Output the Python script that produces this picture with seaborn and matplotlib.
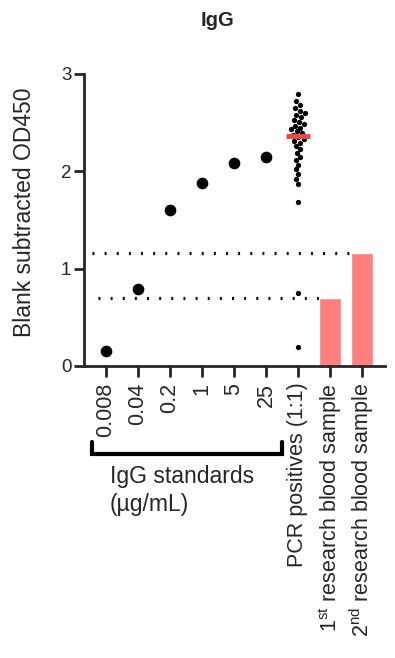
import numpy as np
import pandas as pd
import matplotlib
matplotlib.use("Agg")
import matplotlib.pyplot as plt
import matplotlib.transforms as mtransforms
import seaborn as sns

# ---------------- data ----------------
categories = ["0.008", "0.04", "0.2", "1", "5", "25", "PCR positives (1:1)",
              "1st", "2nd"]
tick_labels = ["0.008", "0.04", "0.2", "1", "5", "25", "PCR positives (1:1)",
               r"1$^{\mathrm{st}}$ research blood sample",
               r"2$^{\mathrm{nd}}$ research blood sample"]
standard_cats = ["0.008", "0.04", "0.2", "1", "5", "25"]
standard_values = [0.15, 0.79, 1.60, 1.88, 2.09, 2.15]
pcr_values = [2.79, 2.72, 2.68, 2.65, 2.62, 2.60, 2.58, 2.56, 2.53, 2.51,
              2.49, 2.47, 2.45, 2.43, 2.41, 2.39, 2.37, 2.35, 2.33, 2.31,
              2.29, 2.26, 2.23, 2.19, 2.15, 2.12, 2.07, 2.02, 1.97, 1.92,
              1.87, 1.69, 0.75, 0.20]
sample_cats = ["1st", "2nd"]
sample_values = [0.70, 1.165]

# ---------------- style ----------------
sns.set_style("ticks")
plt.rcParams["font.family"] = ["Liberation Sans", "DejaVu Sans"]
plt.rcParams["mathtext.fontset"] = "custom"
plt.rcParams["mathtext.rm"] = "Liberation Sans"
plt.rcParams["mathtext.it"] = "Liberation Sans:italic"

fig = plt.figure(figsize=(3.95, 6.58), dpi=100)
ax = fig.add_axes([84 / 395, 1 - 366 / 658, (385 - 84) / 395, (366 - 74) / 658])

df_std = pd.DataFrame({"cat": standard_cats, "val": standard_values})
df_pcr = pd.DataFrame({"cat": ["PCR positives (1:1)"] * len(pcr_values), "val": pcr_values})
df_bar = pd.DataFrame({"cat": sample_cats, "val": sample_values})

sns.barplot(data=df_bar, x="cat", y="val", order=categories, color="#FF7F7F",
            saturation=1, width=0.66, ax=ax, zorder=1)
sns.stripplot(data=df_std, x="cat", y="val", order=categories, color="black",
              size=8.4, jitter=False, ax=ax, zorder=3)
sns.swarmplot(data=df_pcr, x="cat", y="val", order=categories, color="black",
              size=3.8, ax=ax, zorder=3)

# median line for PCR positives
pcr_idx = categories.index("PCR positives (1:1)")
med = float(np.median(pcr_values))
ax.hlines(med, pcr_idx - 0.36, pcr_idx + 0.36, color="#F04545", lw=3.5, zorder=4)

# dotted reference lines at sample values
ax.hlines(sample_values[1], -0.44, 7.62, colors="black", lw=2.3,
          linestyles=(0, (0.6, 3.2)), zorder=2)
ax.hlines(sample_values[0], -0.25, 6.9, colors="black", lw=2.3,
          linestyles=(0, (0.6, 3.2)), zorder=2)

ax.set_xlim(-0.69, 8.72)
ax.set_ylim(0, 3)
ax.set_yticks([0, 1, 2, 3])
ax.set_xticks(range(len(categories)))
ax.set_xticklabels(tick_labels, rotation=90, fontsize=15.5, va="top", ha="center")
ax.tick_params(axis="y", labelsize=13.5, width=2, length=7, pad=2)
ax.tick_params(axis="x", width=2, length=8, pad=4)
for s in ["left", "bottom"]:
    ax.spines[s].set_linewidth(2)
sns.despine(ax=ax)
ax.set_xlabel("")
ax.set_ylabel("Blank subtracted OD450", fontsize=16.5)
ax.yaxis.set_label_coords((36 - 84) / 301, (366 - 212) / 292)

# bracket for standards
trans = mtransforms.blended_transform_factory(ax.transData, ax.transAxes)
ax.plot([-0.44, -0.44, 5.5, 5.5], [-0.26, -0.301, -0.301, -0.26], color="black",
        lw=3, transform=trans, clip_on=False, solid_joinstyle="miter")
ax.text(0.12, -0.38, "IgG standards", transform=trans, fontsize=16.5,
        ha="left", va="center")
ax.text(0.12, -0.476, "(\u00b5g/mL)", transform=trans, fontsize=16.5,
        ha="left", va="center")

fig.text(217 / 395, 1 - 20 / 658, "IgG", fontsize=14.5, fontweight="bold",
         ha="center", va="center")

fig.savefig("out.png", dpi=100)
